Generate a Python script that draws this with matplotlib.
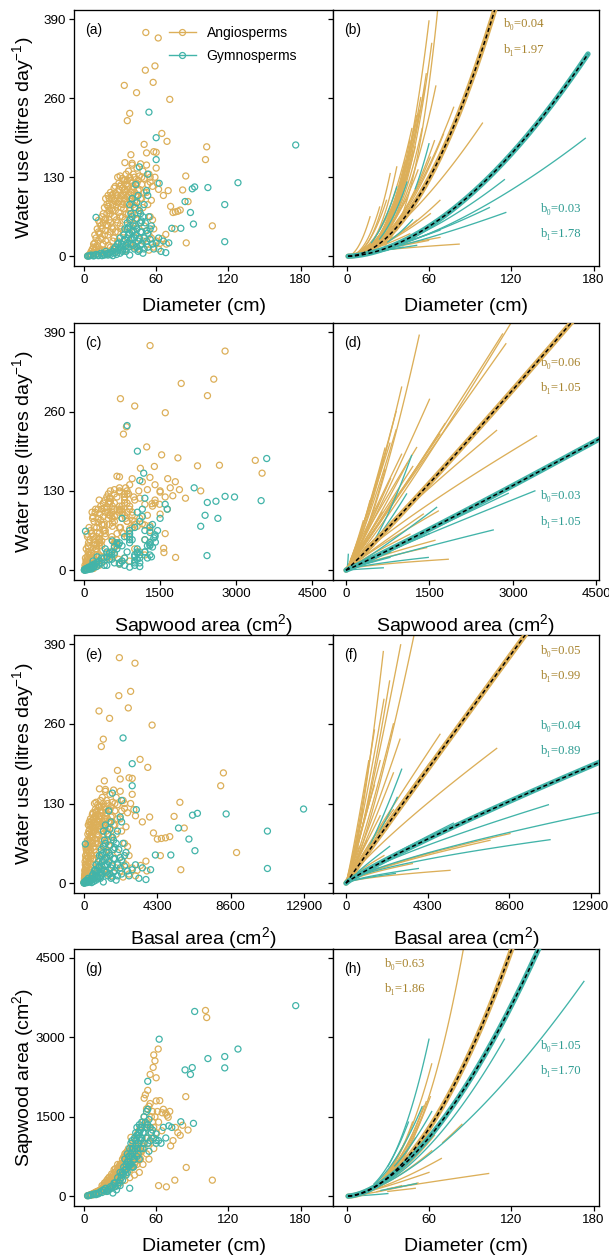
"""
Tree water use and sapwood allometry: raw observations (left column) and
species-level power-law fits with the pooled fit per clade (right column).
"""

import matplotlib.pyplot as plt
import numpy as np
from matplotlib.lines import Line2D

plt.rcParams["font.family"] = ["Liberation Sans", "DejaVu Sans"]
plt.rcParams["mathtext.fontset"] = "custom"
plt.rcParams["mathtext.rm"] = "Liberation Sans"
plt.rcParams["mathtext.it"] = "Liberation Sans:italic"

ANGIO = "#DCAF59"
GYMNO = "#42B4A9"
ANGIO_TEXT = "#A8842F"
GYMNO_TEXT = "#2E9C92"

# -- Tree-level observations: diameter (cm), sapwood area (cm2),
#    basal area (cm2) and daily water use (litres day-1) ----------------------
angio_diameter = [
    3, 4, 5, 5, 6, 6, 7, 7, 8, 8, 9, 9, 10, 10, 11, 11, 12, 12, 13, 13, 14, 14, 15, 15,
    16, 16, 17, 17, 18, 18, 19, 19, 20, 20, 21, 21, 22, 22, 23, 23, 24, 24, 25, 25,
    26, 26, 27, 27, 28, 28, 29, 29, 30, 30, 31, 31, 32, 32, 33, 33, 34, 34, 35, 35,
    36, 36, 37, 37, 38, 38, 39, 39, 40, 40, 41, 41, 42, 42, 43, 43, 44, 44, 45, 45,
    46, 46, 47, 47, 48, 48, 49, 49, 50, 50, 52, 52, 54, 54, 55, 56, 57, 58, 60, 62,
    18, 20, 22, 24, 26, 28, 30, 32, 34, 36, 38, 40, 42, 44, 15, 17, 19, 21, 23, 25,
    8, 9, 10, 11, 12, 13, 14, 15, 16, 17, 18, 19, 20, 20,
    21, 22, 22, 23, 24, 24, 25, 26, 26, 27, 27, 28, 28, 29, 29, 30, 30, 31, 31, 32, 32,
    33, 33, 34, 34, 35, 35,
    36, 36, 37, 37, 38, 38, 39, 39, 40, 40, 41, 41, 42, 42, 43, 43, 44, 44, 45, 45,
    46, 47, 48, 49, 50,
    52, 54, 56, 58, 60, 55, 53, 57, 59, 61,
    18, 22, 26, 30, 34, 38, 42, 46, 28, 24,
    51.4, 61.7, 51, 59, 57.5, 33.5, 43.7, 71.3, 38, 36, 64.7, 69, 50, 102, 101,
    60, 58, 39, 52, 34, 40, 84.6, 82, 86.5, 76, 78, 80, 74, 72, 70, 66, 68, 65,
    85, 106.7, 75.5, 68.5, 62, 63, 53, 55,
]
angio_sapwood = [
    10, 15, 18, 25, 30, 20, 35, 45, 40, 55, 50, 65, 60, 80, 70, 90, 60, 100, 110, 85, 120, 95, 150, 130,
    140, 180, 200, 120, 220, 160, 250, 190, 280, 230, 300, 180, 330, 260, 350, 280, 400, 240, 420, 310,
    450, 350, 480, 300, 520, 420, 560, 380, 600, 470, 620, 520, 700, 460, 740, 560, 800, 650, 820, 600,
    850, 520, 900, 700, 760, 640, 880, 560, 950, 680, 1000, 820, 1080, 600, 900, 750, 1150, 980, 1200, 700,
    1250, 1000, 1300, 850, 1100, 950, 1400, 600, 1500, 1200, 1650, 1350, 1700, 1000, 1750, 1500, 1600, 900, 1800, 1400,
    260, 330, 300, 350, 520, 600, 380, 560, 480, 700, 850, 800, 900, 800, 200, 250, 300, 360, 420, 500,
    30, 45, 40, 55, 80, 70, 100, 110, 100, 150, 130, 170, 200, 150,
    220, 200, 250, 230, 280, 320, 260, 300, 400, 350, 420, 380, 300, 450, 500, 420, 550, 450, 600, 520, 400,
    480, 650, 550, 700, 500, 720,
    600, 750, 550, 800, 700, 500, 650, 780, 600, 850, 700, 550, 750, 950, 650, 850, 700, 600, 850, 950,
    800, 700, 850, 1000, 900,
    800, 700, 1100, 1300, 1200, 1300, 1100, 1400, 1500, 1600,
    90, 150, 200, 250, 300, 350, 400, 450, 250, 180,
    1302, 2780, 1916, 2557, 2433, 719, 1000, 1602, 837, 778, 1236, 1530, 1851, 3375, 3509,
    2237, 2669, 1112, 1387, 650, 700, 1881, 1340, 1250, 1300, 1200, 1150, 1050, 950, 1491, 1642, 1570, 1576,
    543, 303, 303, 177, 200, 1805, 2000, 2300,
]
angio_basal = [
    7, 13, 20, 20, 28, 28, 38, 38, 50, 50, 64, 64, 79, 79, 95, 95, 113, 113, 133, 133, 154, 154, 177, 177,
    201, 201, 227, 227, 254, 254, 284, 284, 314, 314, 346, 346, 380, 380, 415, 415, 452, 452, 491, 491,
    531, 531, 573, 573, 616, 616, 661, 661, 707, 707, 755, 755, 804, 804, 855, 855, 908, 908, 962, 962,
    1018, 1018, 1075, 1075, 1134, 1134, 1195, 1195, 1257, 1257, 1320, 1320, 1385, 1385, 1452, 1452, 1521, 1521, 1590, 1590,
    1662, 1662, 1735, 1735, 1810, 1810, 1886, 1886, 1963, 1963, 2124, 2124, 2290, 2290, 2376, 2463, 2552, 2642, 2827, 3019,
    254, 314, 380, 452, 531, 616, 707, 804, 908, 1018, 1134, 1257, 1385, 1521, 177, 227, 284, 346, 415, 491,
    50, 64, 79, 95, 113, 133, 154, 177, 201, 227, 254, 284, 314, 314,
    346, 380, 380, 415, 452, 452, 491, 531, 531, 573, 573, 616, 616, 661, 661, 707, 707, 755, 755, 804, 804,
    855, 855, 908, 908, 962, 962,
    1018, 1018, 1075, 1075, 1134, 1134, 1195, 1195, 1257, 1257, 1320, 1320, 1385, 1385, 1452, 1452, 1521, 1521, 1590, 1590,
    1662, 1735, 1810, 1886, 1963,
    2124, 2290, 2463, 2642, 2827, 2376, 2206, 2552, 2734, 2922,
    254, 380, 531, 707, 908, 1134, 1385, 1662, 616, 452,
    2075, 2990, 2043, 2734, 2597, 881, 1500, 3993, 1134, 1018, 3288, 3739, 1963, 8171, 8012,
    2827, 2642, 1195, 2124, 908, 1257, 5621, 5281, 5877, 4536, 4778, 5027, 4301, 4072, 3848, 3421, 3632, 3318,
    5675, 8942, 4477, 3685, 3019, 3117, 2206, 2376,
]
angio_water = [
    0.5, 1, 2, 4, 3, 8, 5, 12, 6, 15, 10, 22, 4, 30, 18, 45, 59, 25, 12, 38, 50, 8, 28, 65,
    20, 55, 80, 10, 42, 95, 70, 3, 100, 35, 60, 88, 105, 15, 48, 78, 102, 25, 65, 92,
    104, 40, 85, 8, 130, 55, 72, 110, 132, 95, 45, 118, 128, 20, 100, 78, 125, 60, 135, 88,
    110, 30, 140, 70, 95, 50, 125, 105, 150, 18, 115, 85, 130, 40, 100, 62, 145, 120, 108, 12,
    132, 75, 152, 55, 118, 95, 140, 25, 128, 50, 150, 105, 135, 35, 122, 92, 60, 15, 145, 110,
    62, 82, 40, 75, 90, 100, 65, 85, 110, 98, 80, 120, 68, 90, 45, 35, 52, 75, 95, 112,
    20, 35, 15, 8, 40, 55, 30, 10, 70, 60, 25, 85, 50, 18,
    95, 70, 55, 100, 85, 45, 30, 115, 75, 100, 60, 88, 25, 120, 90, 115, 50, 100, 80, 112, 65,
    125, 40, 95, 105, 118, 70,
    125, 85, 100, 115, 130, 75, 90, 60, 110, 95, 135, 55, 105, 90, 120, 80, 100, 45, 125, 70,
    110, 95, 130, 80, 105,
    20, 10, 30, 45, 25, 65, 85, 115, 130, 120,
    5, 8, 12, 15, 10, 22, 15, 28, 40, 12,
    368, 359, 306, 313, 286, 281, 269, 258, 235, 223, 202, 189, 184, 180, 159,
    171, 172, 167, 170, 154, 153, 132, 109, 90, 73, 74, 76, 72, 82, 108, 100, 36, 29,
    22, 50, 45, 20, 12, 21, 118, 130,
]

gymno_diameter = [
    3, 4, 5, 6, 8, 10, 12, 14, 16, 18, 20, 22, 24, 25, 27, 28, 30, 30, 32, 33,
    34, 35, 36, 37, 38, 38, 39, 40, 40, 41, 42, 42, 43, 43, 44, 45, 45, 46, 46, 47,
    48, 48, 49, 50, 50, 52, 52, 53, 54, 55, 56, 58, 60, 62, 64, 66, 10,
    26, 29, 31, 33, 35, 37, 39, 41, 44, 47,
    20, 22, 24, 26, 28, 30, 31, 32, 34, 35, 36, 37, 38, 39, 40, 41, 42, 43, 44, 45,
    46, 47, 48, 49, 50, 51, 52, 53, 55, 57, 40, 38, 36, 44, 47, 15, 17, 19, 12, 8,
    176, 54, 60, 60, 62.5, 46, 128, 103, 92, 90, 117, 117, 88.5, 91, 80.5, 73, 84,
    70.5, 68, 53, 53,
]
gymno_sapwood = [
    8, 12, 20, 25, 40, 50, 60, 90, 120, 150, 100, 180, 60, 250, 120, 350, 200, 450, 300, 550,
    700, 400, 800, 650, 900, 150, 1000, 750, 1050, 550, 1100, 850, 1200, 950, 1300, 1000, 1150, 700, 1350, 1250,
    1400, 1100, 900, 1500, 1200, 1300, 1600, 1000, 1450, 1050, 1200, 1100, 1000, 1050, 1000, 1300, 30,
    180, 260, 350, 420, 500, 560, 600, 680, 750, 900,
    130, 140, 200, 250, 200, 300, 400, 450, 500, 600, 450, 750, 600, 800, 550, 900, 700, 1050, 900, 800,
    1200, 1050, 1300, 1200, 1000, 1400, 1100, 1350, 1300, 1250, 900, 750, 650, 1150, 1300, 70, 110, 90, 45, 30,
    3600, 850, 1053, 1177, 2966, 1100, 2780, 2600, 3490, 2430, 2638, 2424, 2300, 1376, 1407, 1300, 2386,
    1330, 1100, 2171, 1641,
]
gymno_basal = [
    7, 13, 20, 28, 50, 79, 113, 154, 201, 254, 314, 380, 452, 491, 573, 616, 707, 707, 804, 855,
    908, 962, 1018, 1075, 1134, 1134, 1195, 1257, 1257, 1320, 1385, 1385, 1452, 1452, 1521, 1590, 1590, 1662, 1662, 1735,
    1810, 1810, 1886, 1963, 1963, 2124, 2124, 2206, 2290, 2376, 2463, 2642, 2827, 3019, 3217, 3421, 79,
    531, 661, 755, 855, 962, 1075, 1195, 1320, 1521, 1735,
    314, 380, 452, 531, 616, 707, 755, 804, 908, 962, 1018, 1075, 1134, 1195, 1257, 1320, 1385, 1452, 1521, 1590,
    1662, 1735, 1810, 1886, 1963, 2043, 2124, 2206, 2376, 2552, 1257, 1134, 1018, 1521, 1735, 177, 227, 284, 113, 50,
    24328, 2290, 2827, 2827, 3068, 1662, 12868, 8332, 6648, 6362, 10751, 10751, 6151, 6504, 5090, 4185, 5542,
    3904, 3632, 2206, 2206,
]
gymno_water = [
    0.3, 0.5, 1, 2, 1.5, 3, 2, 5, 4, 8, 2, 6, 1, 12, 3, 20, 5, 30, 10, 25,
    45, 8, 55, 35, 60, 2, 70, 40, 95, 18, 80, 30, 118, 50, 62, 25, 100, 10, 75, 40,
    58, 20, 5, 85, 30, 42, 108, 15, 65, 28, 50, 12, 22, 30, 8, 25, 64,
    15, 22, 12, 35, 18, 48, 28, 42, 15, 55,
    5, 3, 8, 6, 10, 15, 20, 8, 28, 12, 22, 15, 38, 20, 30, 50, 12, 35, 45, 8,
    30, 18, 40, 65, 12, 55, 25, 38, 45, 20, 65, 85, 45, 88, 70, 1, 2, 4, 1, 0.5,
    183, 237, 195, 159, 120, 147, 121, 113, 114, 111, 85, 24, 72, 53, 46, 46, 90,
    22, 6, 135, 100,
]

# -- Pooled clade fits, y = b0 * x^b1 (panels b, d, f, h) ----------------------
angio_b0 = [0.04, 0.064, 0.047, 0.63]
angio_b1 = [1.97, 1.054, 0.99, 1.86]
gymno_b0 = [0.0335, 0.031, 0.042, 1.05]
gymno_b1 = [1.78, 1.05, 0.89, 1.70]

# -- Species-level fits: x range, fitted y at the upper end, exponent ---------
b_angio_start = [28, 27, 20, 18, 15, 14, 20, 12, 15, 10, 14, 8, 16, 12, 10, 15, 8, 6, 20, 18,
                 15, 12, 14, 10, 9, 7, 5, 22, 12, 10, 16, 20, 18,
                 10, 12, 15, 18, 14, 10, 8, 20, 22, 12, 25, 16]
b_angio_end = [67, 60, 54, 57, 51, 47.5, 46, 78, 99, 70.6, 64, 61, 42.6, 36.5, 31.7, 39, 29, 24, 68, 61,
               51, 82, 68, 59.7, 46, 36.5, 17, 55, 40, 44, 33, 48, 52,
               50, 45, 53, 48, 42, 38, 35, 58, 62, 55, 65, 50]
b_angio_top = [420, 387, 261, 278, 231, 210, 190, 245, 219, 201, 190, 163, 157, 147, 136, 114, 92, 81, 92, 70,
               59, 20, 31, 26, 37, 43, 65, 210, 120, 95, 60, 170, 142,
               180, 150, 240, 200, 130, 100, 75, 300, 350, 110, 280, 85]
b_angio_power = [3.6, 2.9, 2.6, 2.4, 2.5, 2.3, 2.8, 1.9, 1.5, 2.0, 2.2, 2.1, 2.6, 2.7, 2.5, 2.4, 2.2, 2.3, 1.6, 1.5,
                 1.6, 0.6, 0.9, 1.0, 1.3, 1.6, 2.0, 2.7, 2.0, 1.8, 1.7, 2.4, 2.2,
                 2.5, 2.6, 2.8, 2.9, 2.4, 2.3, 2.1, 2.9, 3.0, 1.9, 2.5, 1.8]
b_gymno_start = [10, 20, 25, 15, 50, 24, 18, 20, 15, 12, 30, 5, 8]
b_gymno_end = [174, 115, 116, 104, 60, 44, 36.5, 68, 51, 41, 48, 30, 50]
b_gymno_top = [194, 126, 72, 80, 185, 122, 114, 43, 18, 15, 60, 10, 30]
b_gymno_power = [1.55, 1.6, 1.3, 1.4, 2.8, 2.4, 2.3, 1.3, 1.0, 1.0, 2.0, 1.5, 1.6]

d_angio_start = [300, 200, 250, 150, 80, 60, 100, 120, 150, 100, 200, 300, 80, 100, 60, 100, 50, 40, 50, 30,
                 30, 20, 40, 60, 30, 20, 100, 50, 40,
                 30, 40, 50, 20, 30, 60, 50, 40]
d_angio_end = [3064, 2812, 2872, 1316, 790, 670, 999, 1269, 1687, 1777, 2705, 3423, 1628, 1658, 1598, 1837,
               1448, 1149, 910, 551, 431, 311, 1209, 1389, 800, 500, 700, 1100, 650,
               900, 1000, 800, 600, 700, 1200, 1500, 900]
d_angio_top = [420, 387, 371, 385, 208, 185, 190, 201, 223, 240, 229, 220, 158, 97, 49, 18, 37, 59, 125, 147,
               114, 81, 114, 92, 70, 40, 165, 175, 95,
               260, 300, 150, 110, 200, 170, 280, 230]
d_angio_power = [1.1, 1.05, 1.0, 1.4, 1.1, 1.2, 1.0, 0.95, 1.0, 1.05, 0.9, 0.85, 1.0, 0.9, 0.8, 0.6, 0.8, 0.9,
                 1.1, 1.2, 1.3, 1.2, 1.0, 0.95, 1.0, 1.0, 1.4, 1.1, 1.0,
                 1.2, 1.3, 1.1, 1.1, 1.2, 1.0, 1.1, 1.2]
d_gymno_start = [200, 150, 200, 300, 200, 150, 80, 60, 50, 22, 100, 150, 100]
d_gymno_end = [3393, 2645, 2914, 1179, 1089, 1628, 1478, 790, 670, 42, 1000, 1500, 800]
d_gymno_top = [130, 66, 126, 188, 125, 103, 21, 21, 4, 26, 40, 60, 30]
d_gymno_power = [0.95, 0.9, 1.0, 1.6, 1.3, 1.1, 0.7, 0.9, 0.8, 2.8, 1.0, 1.0, 0.9]

f_angio_start = [600, 400, 300, 300, 200, 400, 200, 250, 200, 100, 100, 150, 200, 500, 300, 100, 100, 150, 80,
                 60, 50, 40, 300, 120, 80,
                 60, 80, 100, 50, 100, 150]
f_angio_end = [3690, 2882, 1968, 2300, 4956, 7944, 4428, 2847, 2500, 1500, 1300, 3198, 5483, 8646, 7592, 4428,
               3500, 2200, 1800, 1100, 900, 700, 2500, 2000, 1600,
               1200, 1500, 2000, 800, 2500, 1800]
f_angio_top = [420, 389, 378, 330, 243, 220, 197, 235, 260, 160, 140, 142, 21, 81, 70, 50, 32, 90, 110, 70,
               120, 60, 180, 45, 30,
               200, 250, 300, 100, 120, 200]
f_angio_power = [1.3, 1.2, 1.4, 1.3, 0.95, 0.85, 0.95, 1.1, 1.2, 1.0, 1.0, 0.95, 0.6, 0.75, 0.75, 0.8, 0.7,
                 0.9, 1.0, 1.0, 1.2, 1.0, 1.1, 0.8, 0.8,
                 1.1, 1.2, 1.2, 1.0, 0.9, 1.1]
f_gymno_start = [300, 500, 400, 600, 400, 500, 200, 100, 100, 150, 300]
f_gymno_end = [13304, 10668, 10756, 2935, 2700, 5659, 3814, 2600, 1700, 3000, 2300]
f_gymno_top = [115, 128, 71, 186, 140, 98, 24, 16, 25, 50, 60]
f_gymno_power = [0.75, 0.8, 0.65, 1.3, 1.2, 0.9, 0.7, 0.7, 0.8, 0.85, 0.9]

h_angio_start = [30, 15, 12, 10, 70, 30, 20, 15, 18, 10, 12, 10, 8, 14, 20, 16, 25, 10, 20, 30, 22, 20]
h_angio_end = [86, 61, 58, 55, 84, 103.5, 69, 62, 60, 50, 45, 40, 35, 52, 48, 42, 56, 30, 64, 50, 40, 62]
h_angio_top = [4800, 1880, 1786, 1500, 1357, 429, 713, 858, 450, 1100, 700, 900, 600, 250, 1400, 1000, 1700,
               350, 1150, 150, 200, 2500]
h_angio_power = [2.6, 2.3, 2.2, 2.1, 1.6, 0.9, 1.4, 1.6, 1.2, 2.0, 1.9, 2.3, 2.2, 1.3, 2.5, 2.3, 2.4, 2.0,
                 1.8, 1.0, 1.4, 2.4]
h_gymno_start = [10, 25, 30, 20, 25, 10, 20, 35]
h_gymno_end = [173, 115, 60, 55, 51, 30, 45, 62]
h_gymno_top = [4058, 2966, 2966, 1690, 240, 50, 1400, 1600]
h_gymno_power = [1.55, 1.75, 2.4, 2.0, 1.1, 1.4, 2.2, 1.8]

# -- Axis setup ----------------------------------------------------------------
WATER_TICKS = [0, 130, 260, 390]
SAPWOOD_TICKS = [0, 1500, 3000, 4500]
DIAMETER_TICKS = [0, 60, 120, 180]
BASAL_TICKS = [0, 4300, 8600, 12900]

WATER_LABEL = "Water use (litres day$^{-1}$)"
SAPWOOD_LABEL = "Sapwood area (cm$^{2}$)"
DIAMETER_LABEL = "Diameter (cm)"
BASAL_LABEL = "Basal area (cm$^{2}$)"

FIG_W, FIG_H = 609, 1260
ROWS_PX = [(10, 266), (323, 580), (635, 893), (949, 1206)]
COLS_PX = [(74, 333), (333, 599)]


def make_axes(fig, row, col):
    top, bottom = ROWS_PX[row]
    left, right = COLS_PX[col]
    return fig.add_axes([left / FIG_W, 1 - bottom / FIG_H,
                         (right - left) / FIG_W, (bottom - top) / FIG_H])


def style_axes(ax, xlim, xticks, ylim, yticks, xlabel, ylabel, letter):
    ax.set_xlim(*xlim)
    ax.set_ylim(*ylim)
    ax.set_xticks(xticks)
    ax.set_yticks(yticks)
    ax.tick_params(direction="out", length=3.6, width=0.9, labelsize=9.6, pad=2.5)
    for spine in ax.spines.values():
        spine.set_linewidth(0.95)
    ax.set_xlabel(xlabel, fontsize=14)
    ax.xaxis.set_label_coords(0.5, -0.125)
    if ylabel:
        ax.set_ylabel(ylabel, fontsize=14)
        ax.yaxis.set_label_coords(-0.147, 0.5)
    else:
        ax.tick_params(axis="y", labelleft=False)
    ax.text(0.042, 0.922, f"({letter})", transform=ax.transAxes, fontsize=10,
            va="center", ha="left")


def scatter_clades(ax, ax_x, ax_y, gx, gy):
    ax.scatter(ax_x, ax_y, s=19, facecolors="none", edgecolors=ANGIO, linewidths=0.9)
    ax.scatter(gx, gy, s=19, facecolors="none", edgecolors=GYMNO, linewidths=0.9)


def species_curves(ax, start, end, top, power, color):
    """Thin per-species power curves, each over its own observed x range."""
    for lo, hi, y_hi, k in zip(start, end, top, power):
        x = np.linspace(lo, hi, 60)
        ax.plot(x, y_hi * (x / hi) ** k, color=color, lw=0.95)


def pooled_fit(ax, b0, b1, x_max, color):
    x = np.linspace(1, x_max, 300)
    y = b0 * x ** b1
    ax.plot(x, y, color=color, lw=3.8, solid_capstyle="round", zorder=4)
    ax.plot(x, y, color="black", lw=1.1, dashes=(2.7, 1.8), zorder=5)


def fit_labels(ax, b0, b1, x, y0, y1, color):
    for y, txt in ((y0, f"b\u2080={b0:.2f}"), (y1, f"b\u2081={b1:.2f}")):
        ax.text(x, y, txt, transform=ax.transAxes, color=color, fontsize=9.2,
                family=["Liberation Serif", "DejaVu Serif"], ha="left", va="center")


fig = plt.figure(figsize=(FIG_W / 100, FIG_H / 100), dpi=100)

water_lim = (-16, 405)
sapwood_lim = (-185, 4670)

# -- Row 1: diameter vs water use ---------------------------------------------
ax = make_axes(fig, 0, 0)
scatter_clades(ax, angio_diameter, angio_water, gymno_diameter, gymno_water)
style_axes(ax, (-8.3, 207), DIAMETER_TICKS, water_lim, WATER_TICKS,
           DIAMETER_LABEL, WATER_LABEL, "a")
handles = [
    Line2D([], [], color=ANGIO, lw=1.0, marker="o", markersize=4.3,
           markerfacecolor="none", markeredgewidth=0.9),
    Line2D([], [], color=GYMNO, lw=1.0, marker="o", markersize=4.3,
           markerfacecolor="none", markeredgewidth=0.9),
]
ax.legend(handles, ["Angiosperms", "Gymnosperms"], loc="upper left",
          bbox_to_anchor=(0.365, 0.937), frameon=False, fontsize=10,
          handlelength=1.95, handletextpad=0.8, labelspacing=0.62,
          borderaxespad=0, borderpad=0)

ax = make_axes(fig, 0, 1)
species_curves(ax, b_angio_start, b_angio_end, b_angio_top, b_angio_power, ANGIO)
species_curves(ax, b_gymno_start, b_gymno_end, b_gymno_top, b_gymno_power, GYMNO)
pooled_fit(ax, angio_b0[0], angio_b1[0], 120, ANGIO)
pooled_fit(ax, gymno_b0[0], gymno_b1[0], 176, GYMNO)
style_axes(ax, (-10, 184), DIAMETER_TICKS, water_lim, WATER_TICKS,
           DIAMETER_LABEL, None, "b")
fit_labels(ax, angio_b0[0], angio_b1[0], 0.643, 0.945, 0.845, ANGIO_TEXT)
fit_labels(ax, gymno_b0[0], gymno_b1[0], 0.781, 0.223, 0.125, GYMNO_TEXT)

# -- Row 2: sapwood area vs water use -----------------------------------------
ax = make_axes(fig, 1, 0)
scatter_clades(ax, angio_sapwood, angio_water, gymno_sapwood, gymno_water)
style_axes(ax, (-196, 4906), SAPWOOD_TICKS, water_lim, WATER_TICKS,
           SAPWOOD_LABEL, WATER_LABEL, "c")

ax = make_axes(fig, 1, 1)
species_curves(ax, d_angio_start, d_angio_end, d_angio_top, d_angio_power, ANGIO)
species_curves(ax, d_gymno_start, d_gymno_end, d_gymno_top, d_gymno_power, GYMNO)
pooled_fit(ax, angio_b0[1], angio_b1[1], 4700, ANGIO)
pooled_fit(ax, gymno_b0[1], gymno_b1[1], 4700, GYMNO)
style_axes(ax, (-233, 4545), SAPWOOD_TICKS, water_lim, WATER_TICKS,
           SAPWOOD_LABEL, None, "d")
fit_labels(ax, angio_b0[1], angio_b1[1], 0.781, 0.846, 0.746, ANGIO_TEXT)
fit_labels(ax, gymno_b0[1], gymno_b1[1], 0.781, 0.327, 0.227, GYMNO_TEXT)

# -- Row 3: basal area vs water use -------------------------------------------
ax = make_axes(fig, 2, 0)
scatter_clades(ax, angio_basal, angio_water, gymno_basal, gymno_water)
style_axes(ax, (-584, 14594), BASAL_TICKS, water_lim, WATER_TICKS,
           BASAL_LABEL, WATER_LABEL, "e")

ax = make_axes(fig, 2, 1)
species_curves(ax, f_angio_start, f_angio_end, f_angio_top, f_angio_power, ANGIO)
species_curves(ax, f_gymno_start, f_gymno_end, f_gymno_top, f_gymno_power, GYMNO)
pooled_fit(ax, angio_b0[2], angio_b1[2], 14000, ANGIO)
pooled_fit(ax, gymno_b0[2], gymno_b1[2], 14000, GYMNO)
style_axes(ax, (-685, 13337), BASAL_TICKS, water_lim, WATER_TICKS,
           BASAL_LABEL, None, "f")
fit_labels(ax, angio_b0[2], angio_b1[2], 0.781, 0.939, 0.841, ANGIO_TEXT)
fit_labels(ax, gymno_b0[2], gymno_b1[2], 0.781, 0.647, 0.550, GYMNO_TEXT)

# -- Row 4: diameter vs sapwood area ------------------------------------------
ax = make_axes(fig, 3, 0)
scatter_clades(ax, angio_diameter, angio_sapwood, gymno_diameter, gymno_sapwood)
style_axes(ax, (-8.3, 207), DIAMETER_TICKS, sapwood_lim, SAPWOOD_TICKS,
           DIAMETER_LABEL, SAPWOOD_LABEL, "g")

ax = make_axes(fig, 3, 1)
species_curves(ax, h_angio_start, h_angio_end, h_angio_top, h_angio_power, ANGIO)
species_curves(ax, h_gymno_start, h_gymno_end, h_gymno_top, h_gymno_power, GYMNO)
pooled_fit(ax, angio_b0[3], angio_b1[3], 130, ANGIO)
pooled_fit(ax, gymno_b0[3], gymno_b1[3], 150, GYMNO)
style_axes(ax, (-10, 184), DIAMETER_TICKS, sapwood_lim, SAPWOOD_TICKS,
           DIAMETER_LABEL, None, "h")
fit_labels(ax, angio_b0[3], angio_b1[3], 0.195, 0.942, 0.843, ANGIO_TEXT)
fit_labels(ax, gymno_b0[3], gymno_b1[3], 0.781, 0.623, 0.525, GYMNO_TEXT)

fig.savefig("out.png", dpi=100)
